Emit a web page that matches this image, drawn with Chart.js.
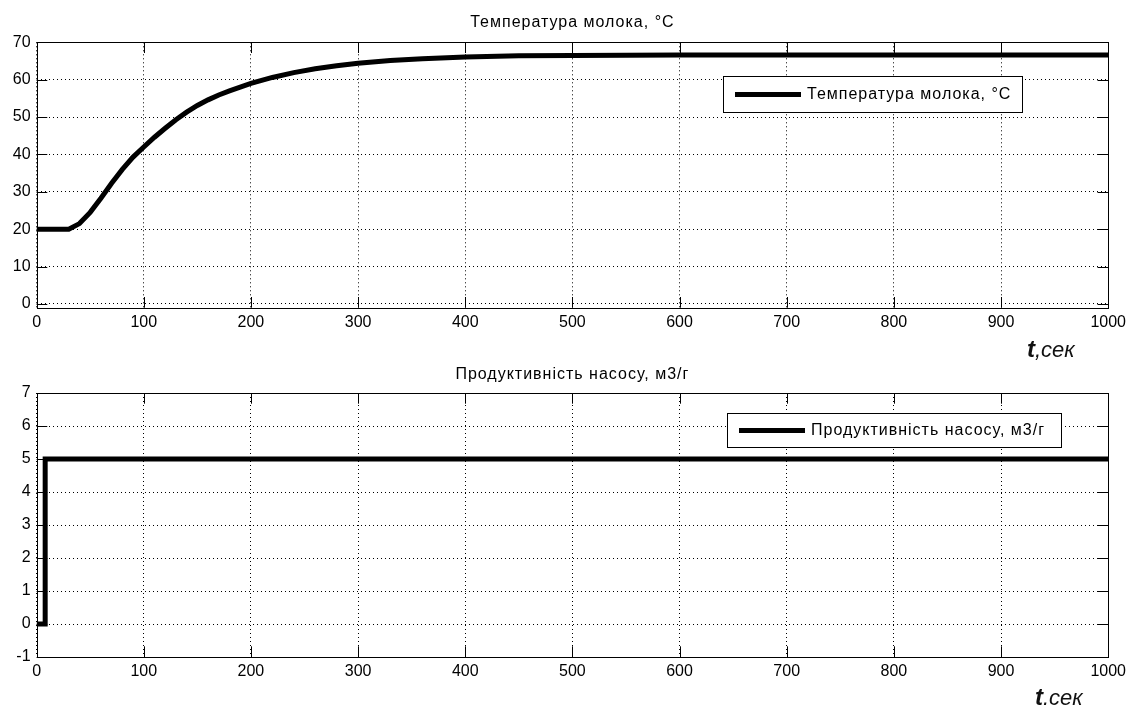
<!DOCTYPE html>
<html>
<head>
<meta charset="utf-8">
<script src="https://cdn.jsdelivr.net/npm/chart.js@4.4.1/dist/chart.umd.min.js"></script>
<style>
  html, body { margin: 0; padding: 0; background: #fff; }
  canvas { position: absolute; left: 0; display: block; }
</style>
</head>
<body>
<canvas id="tempChart" width="1131" height="365" style="top:0"></canvas>
<canvas id="pumpChart" width="1131" height="344" style="top:365px"></canvas>
<script>
// time axis, seconds
const xTickValues = [0, 100, 200, 300, 400, 500, 600, 700, 800, 900, 1000];

// milk temperature, °C
const tempTime = [0, 30, 40, 50, 60, 70, 80, 90, 100, 110, 120, 130, 140, 150, 160, 170, 180, 190, 200,
  220, 240, 260, 280, 300, 330, 360, 400, 450, 500, 600, 700, 800, 900, 1000];
const tempValues = [20, 20, 21.5, 24.5, 28.3, 32.3, 36, 39.3, 42, 44.6, 47, 49.3, 51.3, 53.1, 54.6, 55.9, 57, 58, 59,
  60.6, 61.9, 62.9, 63.7, 64.4, 65.1, 65.6, 66.1, 66.4, 66.5, 66.6, 66.6, 66.6, 66.6, 66.6];
const tempTicks = [0, 10, 20, 30, 40, 50, 60, 70];

// pump capacity, m3/h
const pumpTime = [0, 8, 8, 1000];
const pumpValues = [0, 0, 5, 5];
const pumpTicks = [-1, 0, 1, 2, 3, 4, 5, 6, 7];

Chart.defaults.font.family = "'Liberation Sans', Arial, sans-serif";
Chart.defaults.font.size = 16;
Chart.defaults.color = "#000";

const toPoints = (xs, ys) => xs.map((x, i) => ({ x: x, y: ys[i] }));

// MATLAB style: full box, inward ticks, title, boxed legend, axis label
const matlabFrame = {
  id: "matlabFrame",
  afterDraw(chart, args, opts) {
    const ctx = chart.ctx;
    const a = chart.chartArea;
    const xs = chart.scales.x;
    const ys = chart.scales.y;
    const tl = 10.7;
    ctx.save();
    ctx.strokeStyle = "#000";
    ctx.lineWidth = 1;
    ctx.beginPath();
    xs.ticks.forEach(t => {
      const px = Math.round(xs.getPixelForValue(t.value)) + 0.5;
      ctx.moveTo(px, a.bottom); ctx.lineTo(px, a.bottom - tl);
      ctx.moveTo(px, a.top); ctx.lineTo(px, a.top + tl);
    });
    ys.ticks.forEach(t => {
      const py = Math.round(ys.getPixelForValue(t.value)) + 0.5;
      ctx.moveTo(a.left, py); ctx.lineTo(a.left + tl, py);
      ctx.moveTo(a.right, py); ctx.lineTo(a.right - tl, py);
    });
    ctx.stroke();
    ctx.strokeRect(Math.round(a.left) + 0.5, Math.round(a.top) + 0.5,
      Math.round(a.right) - Math.round(a.left), Math.round(a.bottom) - Math.round(a.top));

    // title
    ctx.fillStyle = "#000";
    ctx.font = "16px 'Liberation Sans', Arial, sans-serif";
    ctx.letterSpacing = "1px";
    ctx.textAlign = "center";
    ctx.textBaseline = "alphabetic";
    ctx.fillText(opts.title, (a.left + a.right) / 2, opts.titleY);

    // legend
    const L = opts.legend;
    const label = chart.data.datasets[0].label;
    ctx.fillStyle = "#fff";
    ctx.fillRect(L.x, L.y, L.w, L.h);
    ctx.lineWidth = 1;
    ctx.strokeRect(L.x + 0.5, L.y + 0.5, L.w, L.h);
    ctx.lineWidth = 5;
    ctx.beginPath();
    ctx.moveTo(L.x + 12, L.y + L.h / 2 + 0.5);
    ctx.lineTo(L.x + 78, L.y + L.h / 2 + 0.5);
    ctx.stroke();
    ctx.fillStyle = "#000";
    ctx.textAlign = "left";
    ctx.textBaseline = "middle";
    ctx.fillText(label, L.x + 84, L.y + L.h / 2 + 1);
    ctx.letterSpacing = "0px";

    // axis label
    const u = opts.unit;
    ctx.textBaseline = "alphabetic";
    ctx.fillStyle = "#111";
    ctx.font = "bold italic 24px 'Liberation Sans', Arial, sans-serif";
    ctx.fillText(u.t, u.x, u.y);
    const w = ctx.measureText(u.t).width;
    ctx.font = "italic 22px 'Liberation Sans', Arial, sans-serif";
    ctx.fillText(u.rest, u.x + w, u.y);
    ctx.restore();
  }
};

function makeChart(id, times, values, label, yTicks, yMin, yMax, frame, padding) {
  return new Chart(document.getElementById(id).getContext("2d"), {
    type: "line",
    data: {
      datasets: [{
        label: label,
        data: toPoints(times, values),
        borderColor: "#000",
        backgroundColor: "#000",
        borderWidth: 5,
        pointRadius: 0,
        tension: 0,
        fill: false
      }]
    },
    options: {
      responsive: false,
      animation: false,
      layout: { padding: padding },
      plugins: {
        legend: { display: false },
        tooltip: { enabled: false },
        matlabFrame: frame
      },
      scales: {
        x: {
          type: "linear",
          min: 0,
          max: 1000,
          afterBuildTicks: s => { s.ticks = xTickValues.map(v => ({ value: v })); },
          afterFit: s => { s.height = 30; },
          ticks: { padding: 5, maxRotation: 0, autoSkip: false, callback: v => String(v) },
          grid: { color: "#000", lineWidth: 1, drawTicks: false },
          border: { display: false, dash: [1, 3] }
        },
        y: {
          type: "linear",
          min: yMin,
          max: yMax,
          afterBuildTicks: s => { s.ticks = yTicks.map(v => ({ value: v })); },
          afterFit: s => { s.width = 36.6; },
          ticks: { padding: 6, autoSkip: false, callback: v => String(v) },
          grid: { color: "#000", lineWidth: 1, drawTicks: false },
          border: { display: false, dash: [1, 3] }
        }
      }
    },
    plugins: [matlabFrame]
  });
}

makeChart("tempChart", tempTime, tempValues, "Температура молока, °С", tempTicks, -1, 70, {
  title: "Температура молока, °С",
  titleY: 27,
  legend: { x: 723, y: 76, w: 299, h: 36 },
  unit: { t: "t", rest: ",сек", x: 1027, y: 357 }
}, { top: 42.3, right: 21, bottom: 27.3, left: 0 });

makeChart("pumpChart", pumpTime, pumpValues, "Продуктивність насосу, м3/г", pumpTicks, -1, 7, {
  title: "Продуктивність насосу, м3/г",
  titleY: 14,
  legend: { x: 727, y: 48, w: 334, h: 34 },
  unit: { t: "t", rest: ".сек", x: 1035, y: 340 }
}, { top: 28, right: 21, bottom: 22, left: 0 });
</script>
</body>
</html>
